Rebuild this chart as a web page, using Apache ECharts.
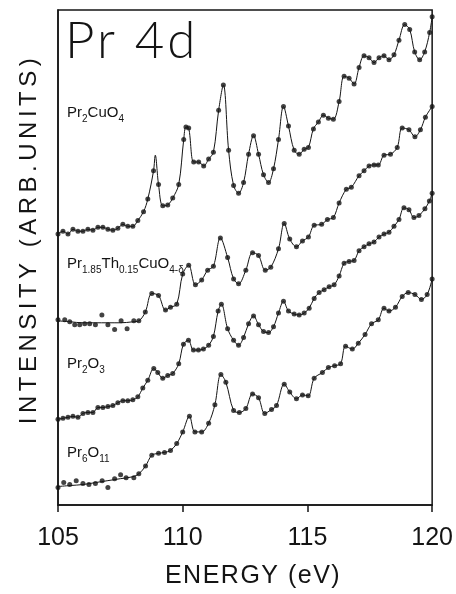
<!DOCTYPE html>
<html>
<head>
<meta charset="utf-8">
<title>Pr 4d</title>
<script src="https://cdn.jsdelivr.net/npm/echarts@6/dist/echarts.min.js"></script>
<style>
  html, body { margin: 0; padding: 0; background: #fff; }
  #chart { width: 456px; height: 594px; }
</style>
</head>
<body>
<div id="chart"></div>
<script>
// Pr 4d photoemission spectra, offset vertically (arbitrary units)
const energyTicks = [105, 110, 115, 120];

// Measured points [energy (eV), intensity]
const pr2cuo4Pts = [
  [105.0,278],[105.2,281],[105.4,278],[105.6,283],[105.8,281],[106.0,281],[106.2,283],[106.4,282],
  [106.6,285],[106.8,285],[107.0,283],[107.2,282],[107.4,284],[107.6,288],[107.8,286],[108.0,286],
  [108.2,292],[108.43,301],[108.6,314],[108.83,343],[109.03,329],[109.2,307],[109.4,308],[109.6,315],
  [109.84,329],[110.04,375],[110.13,388],[110.24,387],[110.44,352],[110.64,352],[110.84,348],[111.04,355],
  [111.23,362],[111.44,405],[111.63,431],[111.84,364],[112.04,328],[112.24,320],[112.44,331],[112.64,360],
  [112.84,379],[113.04,360],[113.24,339],[113.44,331],[113.64,345],[113.84,375],[114.04,409],[114.24,389],
  [114.47,364],[114.67,360],[114.87,365],[115.04,367],[115.24,386],[115.44,393],[115.64,400],[115.84,397],
  [116.04,396],[116.27,414],[116.47,440],[116.67,438],[116.87,432],[117.07,449],[117.27,461],[117.47,459],
  [117.67,454],[117.87,459],[118.07,461],[118.27,457],[118.47,462],[118.67,477],[118.9,493],[119.1,488],
  [119.3,465],[119.5,457],[119.7,465],[119.9,485],[120.0,501]
];
// extra knot of the drawn curve at the sharp first peak
const pr2cuo4PeakKnots = [[108.9,359]];

const prThPts = [
  [105.0,190],[105.27,190],[105.47,188],[105.67,185],[105.87,185],[106.07,186],[106.27,186],[106.5,185],
  [106.76,195],[107.0,185],[107.27,180],[107.53,189],[107.77,181],[108.04,189],[108.24,189],[108.5,198],
  [108.76,217],[109.03,215],[109.31,200],[109.51,203],[109.76,206],[110.0,237],[110.24,246],[110.51,226],
  [110.76,231],[111.0,241],[111.23,245],[111.51,274],[111.8,254],[112.04,232],[112.24,227],[112.53,241],
  [112.8,259],[113.04,256],[113.31,241],[113.53,244],[113.84,263],[114.07,289],[114.29,273],[114.56,265],
  [114.8,271],[115.04,275],[115.27,287],[115.57,288],[115.8,293],[116.04,295],[116.27,310],[116.56,324],
  [116.76,326],[117.07,338],[117.27,343],[117.47,348],[117.67,349],[117.84,349],[118.07,359],[118.33,360],
  [118.6,367],[118.8,387],[119.07,385],[119.31,378],[119.53,385],[119.73,398],[120.0,409]
];
// flat background drawn under the scattered low-energy points
const prThBaseline = [[105.0,189],[105.5,188],[106.0,187],[106.5,187],[107.0,187],[107.5,187],[108.0,188]];

const pr2o3Pts = [
  [105.0,88],[105.2,89],[105.4,90],[105.6,91],[105.8,90],[106.0,94],[106.2,95],[106.4,95],
  [106.6,100],[106.8,100],[107.0,101],[107.2,102],[107.4,105],[107.6,107],[107.8,107],[108.0,108],
  [108.2,111],[108.4,120],[108.6,128],[108.84,140],[109.0,136],[109.2,130],[109.4,133],[109.6,135],
  [109.84,145],[110.03,165],[110.23,169],[110.43,159],[110.63,159],[110.83,160],[111.04,164],[111.23,173],
  [111.42,199],[111.55,206],[111.8,181],[112.04,169],[112.24,164],[112.44,172],[112.64,186],[112.84,194],
  [113.04,185],[113.24,178],[113.44,177],[113.64,183],[113.84,197],[114.04,209],[114.24,199],[114.47,196],
  [114.67,195],[114.87,197],[115.07,202],[115.27,212],[115.47,218],[115.67,221],[115.87,224],[116.07,226],
  [116.27,235],[116.47,248],[116.67,250],[116.87,251],[117.07,261],[117.27,265],[117.47,268],[117.67,270],
  [117.87,275],[118.07,278],[118.27,280],[118.47,286],[118.67,293],[118.87,305],[119.07,303],[119.27,295],
  [119.47,297],[119.71,304],[119.89,312],[120.0,320]
];

const pr6o11Pts = [
  [105.0,18],[105.23,23],[105.47,21],[105.73,25],[106.0,22],[106.24,21],[106.5,22],[106.77,25],
  [107.0,18],[107.27,27],[107.51,31],[107.73,28],[108.04,28],[108.24,32],[108.51,40],[108.76,51],
  [109.03,53],[109.27,54],[109.51,56],[109.76,63],[110.0,75],[110.27,91],[110.49,75],[110.76,75],
  [111.04,84],[111.29,103],[111.53,134],[111.73,126],[112.04,97],[112.27,95],[112.53,99],[112.8,114],
  [113.04,110],[113.29,94],[113.56,98],[113.76,102],[114.07,124],[114.29,116],[114.56,109],[114.8,113],
  [115.03,112],[115.27,130],[115.6,136],[115.84,141],[116.09,143],[116.33,145],[116.53,163],[116.8,160],
  [117.04,166],[117.31,175],[117.57,186],[117.84,190],[118.07,202],[118.27,199],[118.53,203],[118.8,214],
  [119.04,218],[119.31,216],[119.57,211],[119.8,216],[120.0,232]
];
const pr6o11Baseline = [[105.0,19],[105.5,20],[106.0,21],[106.5,23],[107.0,25],[107.5,27],[108.0,29]];

// curve knots: background line below 108.2 eV, measured points above
function withBaseline(base, pts) {
  return base.concat(pts.filter(p => p[0] >= 108.2));
}
function withKnots(pts, knots) {
  return pts.concat(knots).sort((a, b) => a[0] - b[0]);
}

const spectra = [
  { name: 'Pr2CuO4', dots: pr2cuo4Pts, curve: withKnots(pr2cuo4Pts, pr2cuo4PeakKnots) },
  { name: 'Pr1.85Th0.15CuO4-d', dots: prThPts, curve: withBaseline(prThBaseline, prThPts) },
  { name: 'Pr2O3', dots: pr2o3Pts, curve: pr2o3Pts },
  { name: 'Pr6O11', dots: pr6o11Pts, curve: withBaseline(pr6o11Baseline, pr6o11Pts) }
];

const INK = '#141414';
const FONT = "'Liberation Sans', Arial, sans-serif";
const TITLE_FONT = "Lato, 'Liberation Sans', sans-serif";

// Wide tracking for the stencil-style titles; every other string is drawn untracked
const TRACKING = { 'INTENSITY (ARB.UNITS)': '4.5px', 'ENERGY (eV)': '1.5px', 'Pr 4d': '3px' };
(function () {
  const proto = CanvasRenderingContext2D.prototype;
  if (!('letterSpacing' in proto)) return;
  const baseFillText = proto.fillText;
  const setSpacing = (ctx, value) => {
    if (ctx.letterSpacing !== value) {
      ctx.letterSpacing = value;
      const f = ctx.font;
      ctx.font = '10px serif';
      ctx.font = f;
    }
  };
  proto.fillText = function (text, x, y, maxWidth) {
    setSpacing(this, TRACKING[text] || '0px');
    return maxWidth === undefined
      ? baseFillText.call(this, text, x, y)
      : baseFillText.call(this, text, x, y, maxWidth);
  };
})();

const series = [];
spectra.forEach(s => {
  series.push({
    name: s.name + ' curve', type: 'line', data: s.curve,
    smooth: 0.35, showSymbol: false, silent: true,
    lineStyle: { color: INK, width: 1 }, z: 2
  });
  series.push({
    name: s.name, type: 'scatter', data: s.dots,
    symbol: 'circle', symbolSize: 5, silent: true,
    itemStyle: { color: INK }, z: 3
  });
});

function formulaLabel(text, x, y, size, subSize) {
  return {
    type: 'text', x: x, y: y, silent: true,
    style: {
      text: text,
      fontFamily: FONT, fontSize: size, fill: INK,
      rich: {
        n: { fontFamily: FONT, fontSize: size, lineHeight: 22, verticalAlign: 'middle', fill: INK, color: INK },
        s: { fontFamily: FONT, fontSize: subSize, lineHeight: subSize, verticalAlign: 'bottom', fill: INK, color: INK }
      },
      align: 'left', verticalAlign: 'middle', textAlign: 'left', textVerticalAlign: 'middle'
    }
  };
}

const chart = echarts.init(document.getElementById('chart'), null, { renderer: 'canvas' });
chart.setOption({
  animation: false,
  backgroundColor: '#fff',
  grid: {
    left: 58, right: 22, top: 10, bottom: 76,
    show: true, borderColor: INK, borderWidth: 1.5, backgroundColor: 'transparent'
  },
  xAxis: {
    type: 'value', min: energyTicks[0], max: energyTicks[energyTicks.length - 1], interval: 5,
    name: 'ENERGY (eV)', nameLocation: 'middle', nameGap: 59,
    nameTextStyle: { fontFamily: FONT, fontSize: 25, color: INK, padding: [0, 0, 0, 16] },
    axisLine: { show: true, lineStyle: { color: INK, width: 1.5 } },
    axisTick: { show: true, inside: false, length: 7, lineStyle: { color: INK, width: 1.5 } },
    axisLabel: { fontFamily: FONT, fontSize: 25, color: INK, margin: 21 },
    splitLine: { show: false }
  },
  yAxis: {
    type: 'value', min: 0, max: 508,
    axisLine: { show: true, lineStyle: { color: INK, width: 1.5 } },
    axisTick: { show: false }, axisLabel: { show: false }, splitLine: { show: false }
  },
  graphic: [
    {
      type: 'text', x: 29, y: 239, rotation: Math.PI / 2, silent: true,
      style: {
        text: 'INTENSITY (ARB.UNITS)', font: '24px ' + FONT, fill: INK,
        align: 'center', verticalAlign: 'middle', textAlign: 'center', textVerticalAlign: 'middle'
      }
    },
    {
      type: 'text', x: 65, y: 16, silent: true,
      style: {
        text: 'Pr 4d', font: '300 51px ' + TITLE_FONT, fill: INK,
        align: 'left', verticalAlign: 'top', textAlign: 'left', textVerticalAlign: 'top'
      }
    },
    formulaLabel('{n|Pr}{s|2}{n|CuO}{s|4}', 67, 113, 15, 10),
    formulaLabel('{n|Pr}{s|1.85}{n|Th}{s|0.15}{n|CuO}{s|4-δ}', 67, 264, 15, 10),
    formulaLabel('{n|Pr}{s|2}{n|O}{s|3}', 67, 364, 15, 10),
    formulaLabel('{n|Pr}{s|6}{n|O}{s|11}', 67, 453, 15, 10)
  ],
  series: series
});
</script>
</body>
</html>
